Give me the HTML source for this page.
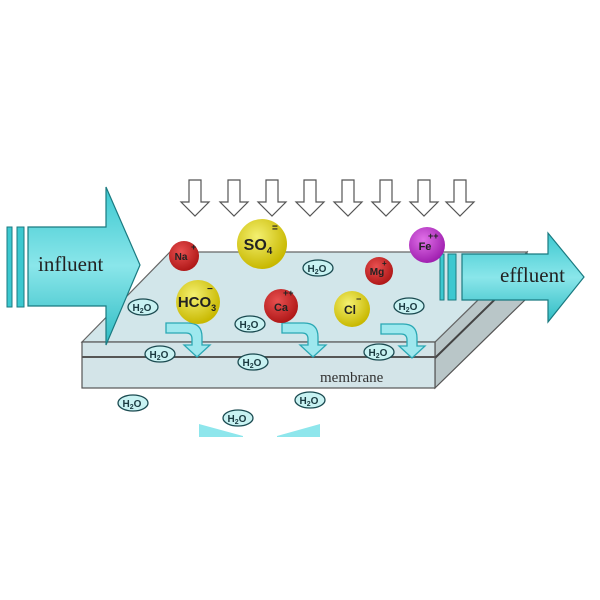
<!DOCTYPE html>
<html><head><style>body{margin:0;background:#fff}svg{display:block}</style></head><body>
<svg width="600" height="600" viewBox="0 0 600 600" xmlns="http://www.w3.org/2000/svg" font-family="Liberation Sans, sans-serif">
<defs>
<radialGradient id="y" cx="40%" cy="35%" r="65%"><stop offset="0" stop-color="#f4f070"/><stop offset="1" stop-color="#c8b800"/></radialGradient>
<radialGradient id="r" cx="40%" cy="35%" r="65%"><stop offset="0" stop-color="#e85050"/><stop offset="1" stop-color="#b01818"/></radialGradient>
<radialGradient id="m" cx="40%" cy="35%" r="65%"><stop offset="0" stop-color="#e070e8"/><stop offset="1" stop-color="#a020b0"/></radialGradient>
<linearGradient id="c" x1="0" y1="0" x2="0" y2="1"><stop offset="0" stop-color="#3cc8d0"/><stop offset="0.5" stop-color="#8ae6ea"/><stop offset="1" stop-color="#2fbcc4"/></linearGradient>
<g id="da"><path d="M-6,0 h12 v22 h8 l-14,14 l-14,-14 h8 z" fill="#fff" stroke="#555" stroke-width="1.2"/></g>
<g id="w"><ellipse rx="15" ry="8" fill="#c8f2f2" stroke="#1a4a50" stroke-width="1.3"/><text x="-1" y="4" font-size="10" font-weight="bold" text-anchor="middle" fill="#1a3a40">H<tspan font-size="7" dy="2">2</tspan><tspan dy="-2">O</tspan></text></g>
<g id="ca"><path d="M0,0 h22 q14,0 14,14 v8 h8 l-13,12 l-13,-12 h8 v-6 q0,-6 -6,-6 h-20 z" fill="#9ee8ee" stroke="#2aa8b4" stroke-width="1.3"/></g>
</defs>
<!-- slab -->
<polygon points="435,342 527,252 527,298 435,388" fill="#b9c6c8" stroke="#555" stroke-width="1.2"/>
<line x1="435" y1="358" x2="527" y2="268" stroke="#444" stroke-width="2"/>
<polygon points="170,252 527,252 435,342 82,342" fill="#d2e6ea" stroke="#666" stroke-width="1.2"/>
<rect x="82" y="342" width="353" height="46" fill="#d3e4e8" stroke="#555" stroke-width="1.2"/>
<line x1="82" y1="357" x2="435" y2="357" stroke="#555" stroke-width="2"/>
<text x="320" y="382" font-family="Liberation Serif, serif" font-size="15" fill="#333">membrane</text>
<!-- down arrows -->
<use href="#da" x="195" y="180"/><use href="#da" x="234" y="180"/><use href="#da" x="272" y="180"/><use href="#da" x="310" y="180"/><use href="#da" x="348" y="180"/><use href="#da" x="386" y="180"/><use href="#da" x="424" y="180"/><use href="#da" x="460" y="180"/>
<!-- influent -->
<rect x="7" y="227" width="5" height="80" fill="#3cc8d0" stroke="#1a7a80"/>
<rect x="17" y="227" width="7" height="80" fill="#3cc8d0" stroke="#1a7a80"/>
<polygon points="28,227 106,227 106,187 140,265 106,345 106,306 28,306" fill="url(#c)" stroke="#1a7a80" stroke-width="1.2"/>
<text x="38" y="271" font-family="Liberation Serif, serif" font-size="21" fill="#222">influent</text>
<!-- effluent -->
<rect x="440" y="254" width="4" height="46" fill="#3cc8d0" stroke="#1a7a80"/>
<rect x="448" y="254" width="8" height="46" fill="#3cc8d0" stroke="#1a7a80"/>
<polygon points="462,254 548,254 548,233 584,277 548,322 548,300 462,300" fill="url(#c)" stroke="#1a7a80" stroke-width="1.2"/>
<text x="500" y="282" font-family="Liberation Serif, serif" font-size="21" fill="#222">effluent</text>
<!-- curved arrows -->
<use href="#ca" x="166" y="323"/><use href="#ca" x="282" y="323"/><use href="#ca" x="381" y="324"/>
<!-- ions -->
<circle cx="184" cy="256" r="15" fill="url(#r)"/><text x="181" y="260" font-size="10" font-weight="bold" text-anchor="middle" fill="#222">Na</text><text x="191" y="250" font-size="9" font-weight="bold" fill="#222">+</text>
<circle cx="262" cy="244" r="25" fill="url(#y)"/><text x="258" y="250" font-size="16" font-weight="bold" text-anchor="middle" fill="#222">SO<tspan font-size="10" dy="4">4</tspan></text><text x="272" y="231" font-size="10" font-weight="bold" fill="#222">=</text>
<circle cx="198" cy="302" r="22" fill="url(#y)"/><text x="197" y="307" font-size="15" font-weight="bold" text-anchor="middle" fill="#222">HCO<tspan font-size="9" dy="4">3</tspan></text><text x="207" y="292" font-size="10" font-weight="bold" fill="#222">−</text>
<circle cx="281" cy="306" r="17" fill="url(#r)"/><text x="281" y="311" font-size="11" font-weight="bold" text-anchor="middle" fill="#222">Ca</text><text x="283" y="296" font-size="9" font-weight="bold" fill="#222">++</text>
<circle cx="379" cy="271" r="14" fill="url(#r)"/><text x="377" y="275" font-size="10" font-weight="bold" text-anchor="middle" fill="#222">Mg</text><text x="382" y="266" font-size="8" font-weight="bold" fill="#222">+</text>
<circle cx="352" cy="309" r="18" fill="url(#y)"/><text x="350" y="314" font-size="12" font-weight="bold" text-anchor="middle" fill="#222">Cl</text><text x="356" y="302" font-size="9" font-weight="bold" fill="#222">−</text>
<circle cx="427" cy="245" r="18" fill="url(#m)"/><text x="425" y="250" font-size="11" font-weight="bold" text-anchor="middle" fill="#222">Fe</text><text x="428" y="239" font-size="9" font-weight="bold" fill="#222">++</text>
<!-- water -->
<use href="#w" x="318" y="268"/><use href="#w" x="143" y="307"/><use href="#w" x="250" y="324"/><use href="#w" x="409" y="306"/><use href="#w" x="160" y="354"/><use href="#w" x="253" y="362"/><use href="#w" x="379" y="352"/><use href="#w" x="133" y="403"/><use href="#w" x="238" y="418"/><use href="#w" x="310" y="400"/>
<!-- bottom shapes -->
<polygon points="199,424 243,436 243,437 199,437" fill="#8ee6ec"/>
<polygon points="277,436 320,424 320,437 277,437" fill="#8ee6ec"/>
</svg>
</body></html>
